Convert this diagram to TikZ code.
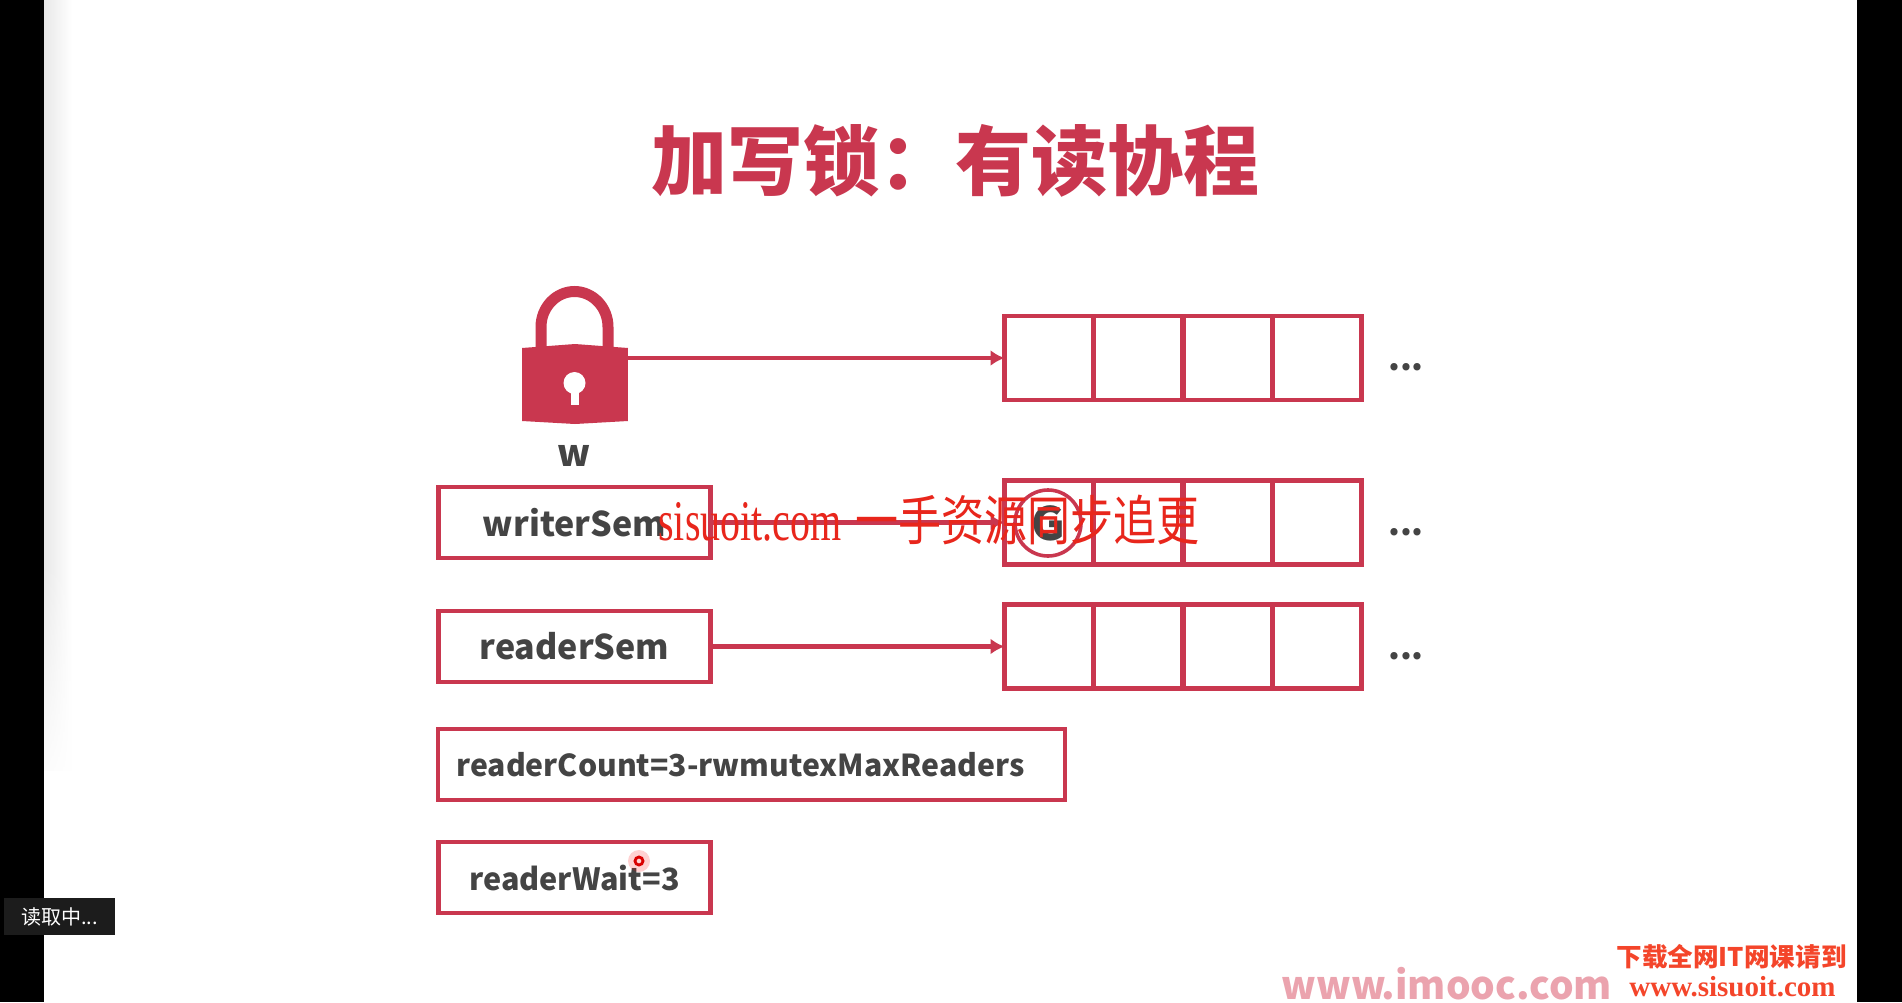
\documentclass[tikz,border=0pt]{standalone}
\usepackage{fontspec}
\usetikzlibrary{arrows.meta,calc,positioning,fadings}
\setmainfont{Noto Sans CJK SC}
\setsansfont{Noto Sans CJK SC}
\newfontfamily\seriffont{Liberation Serif}
\definecolor{lockred}{HTML}{C9374F}
\definecolor{ink}{HTML}{444444}
\definecolor{stampred}{HTML}{E8261C}
\definecolor{sitered}{HTML}{F4452A}
\definecolor{markpink}{HTML}{EBA3AE}
\definecolor{tagfill}{HTML}{1C1C1C}

\begin{document}
\begin{tikzpicture}[
  x=0.5pt,y=-0.5pt,
  regbox/.style={draw=lockred,line width=2.4pt,fill=white,minimum height=35.5pt,
                 outer sep=0pt,inner sep=0pt,font=\fontsize{17}{20}\selectfont\bfseries,text=ink},
  slot/.style={draw=lockred,line width=2.4pt,minimum width=44.5pt,minimum height=42pt,
               outer sep=0pt,inner sep=0pt},
  flow/.style={-{Latex[length=7pt,width=8pt]},line width=2.2pt,draw=lockred},
  more/.style={font=\fontsize{17}{20}\selectfont\bfseries,text=ink}
]
\useasboundingbox (0,0) rectangle (1902,1002);

% Screen.
\fill[white] (0,0) rectangle (1902,1002);
\shade[left color=black!9,right color=white] (44,0) rectangle (72,770);
\fill[white,path fading=north] (44,560) rectangle (72,800);
\fill[black] (0,0) rectangle (44,1002);
\fill[black] (1857,0) rectangle (1902,1002);

\node[font=\fontsize{38}{40}\selectfont\bfseries,text=lockred] (title) at (955,161)
  {加写锁：有读协程};

% Lock.
\draw[lockred,line width=5.5pt] (541,352) -- (541,327)
  arc[start angle=180,end angle=360,x radius=33.5,y radius=35.5] -- (608,352);
\node[fill=lockred,minimum width=53pt,minimum height=36.5pt,inner sep=0pt,outer sep=0pt]
  (lockbody) at (575,384.5) {};
\fill[lockred] (522,348) -- (575,344) -- (628,348) -- cycle;
\fill[lockred] (522,421) -- (575,424) -- (628,421) -- cycle;
\fill[white] (574.5,383) circle[radius=11];
\fill[white] (571,388) rectangle (578.5,405);
\node[font=\fontsize{18.5}{20}\selectfont\bfseries,text=ink] (wlabel) at (574,456) {w};

% Queues.
\foreach \row/\ypos in {1/358,2/522.5,3/646.5}{
  \foreach \col in {1,2,3,4}{
    \node[slot] (q\row c\col) at ({1049+89.3*(\col-1)},\ypos) {};
  }
}
\node[more] (dots1) at (1406,367) {...};
\node[more] (dots2) at (1406,532) {...};
\node[more] (dots3) at (1406,656) {...};

% Registers.
\node[regbox,minimum width=136pt] (writersem) at (574.5,522.5) {writerSem};
\node[regbox,minimum width=136pt] (readersem) at (574.5,646.5) {readerSem};
\node[regbox,minimum width=313.5pt,anchor=west,font=\fontsize{15.1}{18}\selectfont\bfseries,
      text width=295pt,align=left]
  (readercount) at (438,764.5) {readerCount=3-rwmutexMaxReaders};
\node[regbox,minimum width=136pt,font=\fontsize{15.3}{18}\selectfont\bfseries]
  (readerwait) at (574.5,877.5) {readerWait=3};

\draw[flow] (lockbody.east |- q1c1.west) -- (q1c1.west);
\draw[flow] (writersem.east) -- (q2c1.west);
\draw[flow] (readersem.east) -- (q3c1.west);

% Goroutine in first slot.
\node[circle,draw=lockred,line width=1.8pt,minimum size=33pt,inner sep=0pt,
      font=\fontsize{23}{24}\selectfont\bfseries,text=ink] (gnode) at (1048,523) {G};

% Pointer.
\fill[red,opacity=0.18] (639,861) circle[radius=11];
\draw[red!85!black,line width=1.4pt] (639,861) circle[radius=4];

% Overlays.
\node[text=stampred,anchor=west,inner sep=0pt,xscale=0.8,yscale=1.15,
      font=\seriffont\fontsize{25}{28}\selectfont] (stampsite) at (658,522) {sisuoit.com};
\node[text=stampred,anchor=west,inner sep=0pt,font=\fontsize{21.5}{28}\selectfont,yscale=1.25]
  (stampcn) at (855,520) {一手资源同步追更};

\node[fill=tagfill,text=white,minimum width=55.5pt,minimum height=18.5pt,inner sep=0pt,
      font=\fontsize{10}{12}\selectfont] (readingtag) at (59.5,916.5) {读取中...};

\node[text=markpink,anchor=west,inner sep=0pt,
      font=\fontsize{19.4}{22}\selectfont\bfseries] (markimooc) at (1281,984) {www.imooc.com};
\node[text=sitered,anchor=east,inner sep=0pt,font=\fontsize{12.8}{14}\selectfont\bfseries]
  (sitecn) at (1847,957) {下载全网IT网课请到};
\node[text=sitered,anchor=east,inner sep=0pt,font=\seriffont\fontsize{14.5}{16}\selectfont\bfseries]
  (siteurl) at (1836,987) {www.sisuoit.com};
\end{tikzpicture}
\end{document}
